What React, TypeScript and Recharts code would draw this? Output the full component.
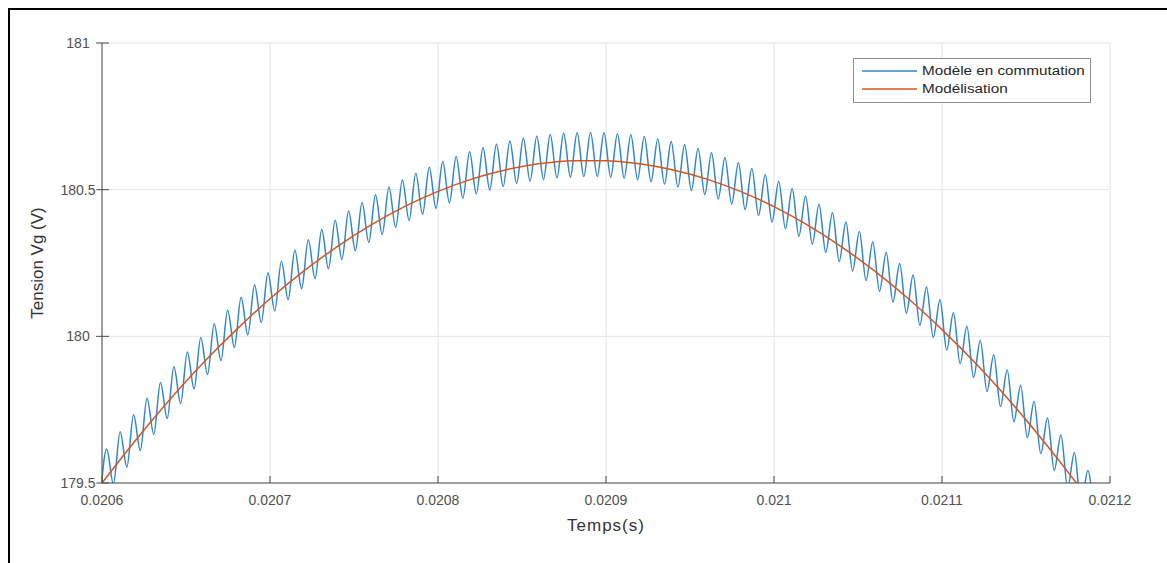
import React from 'react';
import { LineChart, Line, XAxis, YAxis, CartesianGrid, Legend } from 'recharts';

// Switching model (blue): alternating valley / peak readings
const switchTime = [
  0.0205988,
  0.0206028, 0.0206068, 0.0206108, 0.0206148, 0.0206188, 0.0206228, 0.0206268, 0.0206308, 0.0206348, 0.0206388,
  0.0206428, 0.0206468, 0.0206508, 0.0206548, 0.0206588, 0.0206628, 0.0206668, 0.0206708, 0.0206748, 0.0206788,
  0.0206828, 0.0206868, 0.0206908, 0.0206948, 0.0206988,
  0.0207028, 0.0207068, 0.0207108, 0.0207148, 0.0207188, 0.0207228, 0.0207268, 0.0207308, 0.0207348, 0.0207388,
  0.0207428, 0.0207468, 0.0207508, 0.0207548, 0.0207588, 0.0207628, 0.0207668, 0.0207708, 0.0207748, 0.0207788,
  0.0207828, 0.0207868, 0.0207908, 0.0207948, 0.0207988,
  0.0208028, 0.0208068, 0.0208108, 0.0208148, 0.0208188, 0.0208228, 0.0208268, 0.0208308, 0.0208348, 0.0208388,
  0.0208428, 0.0208468, 0.0208508, 0.0208548, 0.0208588, 0.0208628, 0.0208668, 0.0208708, 0.0208748, 0.0208788,
  0.0208828, 0.0208868, 0.0208908, 0.0208948, 0.0208988,
  0.0209028, 0.0209068, 0.0209108, 0.0209148, 0.0209188, 0.0209228, 0.0209268, 0.0209308, 0.0209348, 0.0209388,
  0.0209428, 0.0209468, 0.0209508, 0.0209548, 0.0209588, 0.0209628, 0.0209668, 0.0209708, 0.0209748, 0.0209788,
  0.0209828, 0.0209868, 0.0209908, 0.0209948, 0.0209988,
  0.0210028, 0.0210068, 0.0210108, 0.0210148, 0.0210188, 0.0210228, 0.0210268, 0.0210308, 0.0210348, 0.0210388,
  0.0210428, 0.0210468, 0.0210508, 0.0210548, 0.0210588, 0.0210628, 0.0210668, 0.0210708, 0.0210748, 0.0210788,
  0.0210828, 0.0210868, 0.0210908, 0.0210948, 0.0210988,
  0.0211028, 0.0211068, 0.0211108, 0.0211148, 0.0211188, 0.0211228, 0.0211268, 0.0211308, 0.0211348, 0.0211388,
  0.0211428, 0.0211468, 0.0211508, 0.0211548, 0.0211588, 0.0211628, 0.0211668, 0.0211708, 0.0211748, 0.0211788,
  0.0211828, 0.0211868, 0.0211908,
];

const switchVolt = [
  179.436,
  179.616, 179.496, 179.675, 179.554, 179.733, 179.611, 179.789, 179.666, 179.843, 179.720,
  179.896, 179.771, 179.947, 179.821, 179.996, 179.870, 180.043, 179.917, 180.089, 179.962,
  180.133, 180.005, 180.176, 180.047, 180.217,
  180.087, 180.256, 180.125, 180.294, 180.162, 180.329, 180.197, 180.364, 180.230, 180.396,
  180.262, 180.427, 180.292, 180.456, 180.320, 180.483, 180.347, 180.509, 180.371, 180.533,
  180.395, 180.556, 180.416, 180.576, 180.436,
  180.596, 180.455, 180.613, 180.471, 180.629, 180.486, 180.643, 180.499, 180.655, 180.511,
  180.666, 180.521, 180.675, 180.529, 180.682, 180.535, 180.688, 180.540, 180.692, 180.543,
  180.694, 180.545, 180.695, 180.545, 180.694,
  180.543, 180.691, 180.539, 180.687, 180.534, 180.681, 180.527, 180.673, 180.519, 180.664,
  180.509, 180.653, 180.497, 180.640, 180.483, 180.626, 180.468, 180.610, 180.451, 180.592,
  180.432, 180.572, 180.412, 180.551, 180.390,
  180.529, 180.367, 180.504, 180.341, 180.478, 180.314, 180.450, 180.286, 180.421, 180.255,
  180.390, 180.223, 180.357, 180.190, 180.322, 180.154, 180.286, 180.117, 180.248, 180.079,
  180.209, 180.038, 180.168, 179.996, 180.125,
  179.953, 180.080, 179.907, 180.034, 179.860, 179.986, 179.812, 179.937, 179.761, 179.885,
  179.709, 179.832, 179.655, 179.778, 179.600, 179.722, 179.543, 179.664, 179.484, 179.604,
  179.424, 179.543, 179.362,
];

// Averaged model (red)
const modelTime = [
  0.02060, 0.02062, 0.02064, 0.02066, 0.02068, 0.02070, 0.02072, 0.02074, 0.02076, 0.02078,
  0.02080, 0.02082, 0.02084, 0.02086, 0.02088, 0.02090, 0.02092, 0.02094, 0.02096, 0.02098,
  0.02100, 0.02102, 0.02104, 0.02106, 0.02108, 0.02110, 0.02112, 0.02114, 0.02116, 0.02118,
  0.02120,
];
const modelVolt = [
  179.500, 179.646, 179.782, 179.908, 180.023, 180.128, 180.222, 180.306, 180.379, 180.442,
  180.494, 180.536, 180.567, 180.588, 180.599, 180.599, 180.588, 180.567, 180.536, 180.494,
  180.442, 180.379, 180.306, 180.222, 180.128, 180.023, 179.908, 179.782, 179.646, 179.500,
  179.343,
];

const xTicks = [0.0206, 0.0207, 0.0208, 0.0209, 0.021, 0.0211, 0.0212];
const yTicks = [179.5, 180, 180.5, 181];
const seriesNames = ['Modèle en commutation', 'Modélisation'];
const seriesColors = ['#2f86cf', '#d9541c'];
const xTitle = 'Temps(s)';
const yTitle = 'Tension Vg (V)';

const switchData = switchTime.map((t, i) => ({ t, v: switchVolt[i] }));
const modelData = modelTime.map((t, i) => ({ t, v: modelVolt[i] }));

const FONT = '"Liberation Sans", Arial, Helvetica, sans-serif';
const AXIS_COLOR = '#4a4a4a';
const LABEL_COLOR = '#505050';
const TICK_FS = 14;

const XTick = (props: any) => {
  const { x, y, payload } = props;
  const axisY = y - 12;
  return (
    <g>
      <line x1={x} x2={x} y1={axisY} y2={axisY - 7} stroke={AXIS_COLOR} strokeWidth={1} />
      <text x={x} y={y} dy="0.71em" textAnchor="middle" fontFamily={FONT} fontSize={TICK_FS} fill={LABEL_COLOR}>
        {String(payload.value)}
      </text>
    </g>
  );
};

const YTick = (props: any) => {
  const { x, y, payload } = props;
  const axisX = x + 6;
  return (
    <g>
      <line x1={axisX - 6} x2={axisX + 7} y1={y} y2={y} stroke={AXIS_COLOR} strokeWidth={1} />
      <text x={axisX - 24} y={y} dy="0.355em" textAnchor="middle" fontFamily={FONT} fontSize={TICK_FS} fill={LABEL_COLOR}
        stroke="#fff" strokeWidth={3} paintOrder="stroke">
        {String(payload.value)}
      </text>
    </g>
  );
};

const LegendBox = () => (
  <div
    style={{
      border: '1px solid #8f8f8f',
      background: '#fff',
      width: 236,
      height: 40,
      boxSizing: 'content-box',
      fontFamily: FONT,
      fontSize: 12.5,
      color: '#262626',
      paddingTop: 3,
    }}
  >
    {seriesNames.map((n, i) => (
      <div key={n} style={{ display: 'flex', alignItems: 'center', height: 18, whiteSpace: 'nowrap' }}>
        <svg width={68} height={18} style={{ display: 'block', flex: '0 0 auto' }}>
          <line x1={8} x2={63} y1={9} y2={9} stroke={seriesColors[i]} strokeWidth={1.6} />
        </svg>
        <span style={{ display: 'inline-block', transform: 'scaleX(1.22)', transformOrigin: 'left center' }}>{n}</span>
      </div>
    ))}
  </div>
);

export default function App() {
  return (
    <div
      style={{
        position: 'fixed',
        left: 8,
        top: 8,
        width: 1159,
        height: 555,
        boxSizing: 'border-box',
        borderTop: '2px solid #000',
        borderLeft: '2px solid #000',
        background: '#fff',
      }}
    >
      <LineChart width={1157} height={553} margin={{ top: 33, right: 57, bottom: 50, left: 32 }}>
        <CartesianGrid stroke="#e4e4e4" strokeWidth={1} horizontalValues={yTicks} verticalValues={xTicks} />
        <XAxis
          dataKey="t"
          type="number"
          domain={[0.0206, 0.0212]}
          ticks={xTicks}
          allowDataOverflow
          height={30}
          stroke={AXIS_COLOR}
          tickLine={false}
          tickSize={6}
          tickMargin={6}
          tick={<XTick />}
          label={{
            content: (p: any) => {
              const vb = p.viewBox;
              return (
                <text
                  x={vb.x + vb.width / 2}
                  y={vb.y + vb.height + 18}
                  textAnchor="middle"
                  fontFamily={FONT}
                  fontSize={17}
                  letterSpacing={1}
                  fill="#333"
                >
                  {xTitle}
                </text>
              );
            },
          }}
        />
        <YAxis
          dataKey="v"
          type="number"
          domain={[179.5, 181]}
          ticks={yTicks}
          allowDataOverflow
          width={60}
          stroke={AXIS_COLOR}
          tickLine={false}
          tickSize={3}
          tickMargin={3}
          tick={<YTick />}
          label={{
            content: (p: any) => {
              const vb = p.viewBox;
              const cx = vb.x + 1;
              const cy = vb.y + vb.height / 2;
              return (
                <text
                  x={cx}
                  y={cy}
                  transform={`rotate(-90 ${cx} ${cy})`}
                  textAnchor="middle"
                  fontFamily={FONT}
                  fontSize={17}
                  fill="#333"
                >
                  {yTitle}
                </text>
              );
            },
          }}
        />
        <Legend
          layout="horizontal"
          verticalAlign="middle"
          align="center"
          content={<LegendBox />}
          wrapperStyle={{ position: 'absolute', left: 843, top: 48, width: 238, height: 46 }}
        />
        <Line
          data={switchData}
          dataKey="v"
          type="monotone"
          stroke={seriesColors[0]}
          strokeWidth={1.5}
          dot={false}
          isAnimationActive={false}
          name={seriesNames[0]}
        />
        <Line
          data={modelData}
          dataKey="v"
          type="monotone"
          stroke={seriesColors[1]}
          strokeWidth={1.5}
          dot={false}
          isAnimationActive={false}
          name={seriesNames[1]}
        />
      </LineChart>
    </div>
  );
}
